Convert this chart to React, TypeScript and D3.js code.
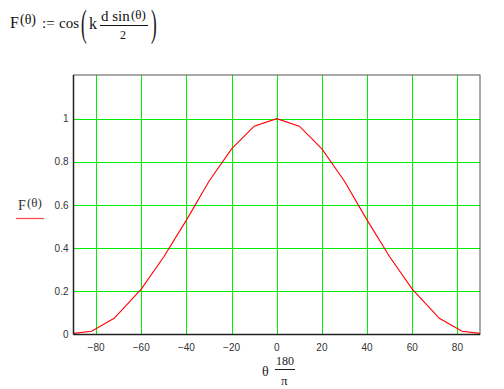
import React from "react";
import * as d3 from "d3";

const thetaDeg = [-90, -82, -72, -60, -50, -40, -30, -20, -10, 0, 10, 20, 30, 40, 50, 60, 72, 82, 90];
const fValues = [0.005, 0.015, 0.075, 0.21, 0.36, 0.53, 0.71, 0.86, 0.965, 1.0, 0.965, 0.86, 0.71, 0.53, 0.36, 0.21, 0.075, 0.015, 0.005];
const xTicks = [-80, -60, -40, -20, 0, 20, 40, 60, 80];
const yTicks = [0, 0.2, 0.4, 0.6, 0.8, 1];
const yTickLabels = ["0", "0.2", "0.4", "0.6", "0.8", "1"];

const W = 504, H = 389;
const plot = { left: 73.5, right: 480, top: 75, bottom: 334.5 };

export default function App() {
  const x = d3.scaleLinear().domain([-90, 90]).range([plot.left, plot.right]);
  const y = d3.scaleLinear().domain([0, 1.2]).range([plot.bottom, plot.top + 0.5]);
  const data = thetaDeg.map((t, i) => [t, fValues[i]] as [number, number]);
  const line = d3.line<[number, number]>().x(d => x(d[0])).y(d => y(d[1]));
  const serif = "'Liberation Serif', 'DejaVu Serif', serif";
  const sans = "'Liberation Sans', Arial, sans-serif";
  return (
    <svg width={W} height={H} style={{ position: "absolute", left: 0, top: 0, background: "#fff" }}>
      {/* formula */}
      <g fontFamily={serif} fill="#111">
        <text x={10} y={28} fontSize={16}>F</text>
        <text x={20} y={24} fontSize={14}>(θ)</text>
        <text x={42} y={28} fontSize={15}>:=</text>
        <text x={59} y={28} fontSize={15}>cos</text>
        <text x={81} y={36} fontSize={38} fontWeight={100} transform="translate(81,36) scale(0.45,1) translate(-81,-36)">(</text>
        <text x={89} y={29} fontSize={16}>k</text>
        <text x={101} y={21} fontSize={15}>d sin</text>
        <text x={131} y={19} fontSize={13}>(θ)</text>
        <line x1={100} x2={148} y1={25.5} y2={25.5} stroke="#111" strokeWidth={1} />
        <text x={120} y={39} fontSize={12}>2</text>
        <text x={151} y={36} fontSize={38} fontWeight={100} transform="translate(151,36) scale(0.45,1) translate(-151,-36)">)</text>
      </g>

      {/* grid */}
      <g stroke="#00ee00" strokeWidth={1}>
        {xTicks.map(t => (
          <line key={"gx" + t} x1={Math.round(x(t)) + 0.5} x2={Math.round(x(t)) + 0.5} y1={plot.top} y2={plot.bottom} />
        ))}
        {yTicks.filter(t => t > 0).map(t => (
          <line key={"gy" + t} x1={plot.left} x2={plot.right} y1={Math.round(y(t)) + 0.5} y2={Math.round(y(t)) + 0.5} />
        ))}
      </g>

      {/* curve */}
      <path d={line(data) || ""} fill="none" stroke="#ff0000" strokeWidth={1.1} />

      {/* frame */}
      <rect x={plot.left} y={plot.top} width={plot.right - plot.left} height={plot.bottom - plot.top} fill="none" stroke="#555" strokeWidth={1} />
      <line x1={plot.left} x2={plot.left} y1={plot.top} y2={plot.bottom} stroke="#222" strokeWidth={1.5} />
      <line x1={plot.left} x2={plot.right} y1={plot.bottom} y2={plot.bottom} stroke="#222" strokeWidth={1.5} />

      {/* tick labels */}
      <g fontFamily={sans} fontSize={10} fill="#333">
        {yTicks.map((t, i) => (
          <text key={"yl" + t} x={plot.left - 5} y={y(t) + 3.5} textAnchor="end">{yTickLabels[i]}</text>
        ))}
        {xTicks.map(t => (
          <text key={"xl" + t} x={x(t)} y={plot.bottom + 16} textAnchor="middle">{t < 0 ? "\u2212" + Math.abs(t) : String(t)}</text>
        ))}
      </g>

      {/* y axis label */}
      <g fontFamily={serif} fill="#333">
        <text x={18} y={210} fontSize={14}>F</text>
        <text x={27} y={207} fontSize={13}>(θ)</text>
        <line x1={16} x2={44} y1={218.5} y2={218.5} stroke="#ff4444" strokeWidth={1.2} />
      </g>

      {/* x axis label */}
      <g fontFamily={serif} fill="#222">
        <text x={262} y={376} fontSize={14}>θ</text>
        <text x={276} y={365} fontSize={12}>180</text>
        <line x1={275} x2={295} y1={369.5} y2={369.5} stroke="#222" strokeWidth={1} />
        <text x={281} y={385} fontSize={13}>π</text>
      </g>
    </svg>
  );
}
